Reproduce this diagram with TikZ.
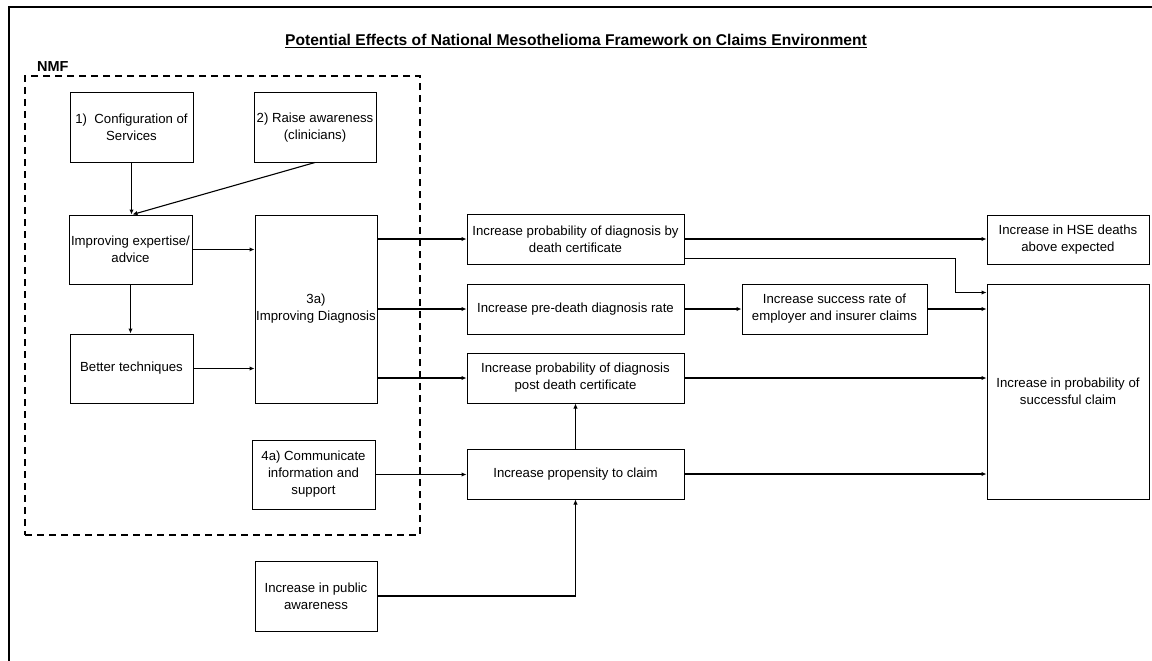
\documentclass[tikz,border=0pt]{standalone}
\usepackage{fontspec}
\setmainfont{Liberation Sans}
\usetikzlibrary{arrows.meta}

\begin{document}
\begin{tikzpicture}[x=1pt,y=-1pt]
                  \tikzstyle{every node}+=[inner sep=0pt, font=\fontsize{13.2}{17}\selectfont]
                  \tikzstyle{box}=[draw=black, line width=1pt, align=center]
                  \tikzstyle{arr}=[black, line width=1.1pt, -{Latex[length=5pt,width=4.5pt]}]
                  \useasboundingbox (0,0) rectangle (1152,661);
                  \draw [black, line width=1.5pt] (9,661) -- (9,7) -- (1152,7);
                  \draw (576,46) node [anchor=base, font=\fontsize{15.6}{18}\selectfont\bfseries] (title) {\underline{Potential Effects of National Mesothelioma Framework on Claims Environment}};
                  \draw (222.5,305.5) node [draw=black, dash pattern=on 7pt off 5pt, line width=1.5pt, minimum width=395pt, minimum height=459pt] (nmf) {};
                  \draw (37,72) node [anchor=base west, font=\fontsize{14.5}{16}\selectfont\bfseries] (nmflabel) {NMF};
                  \draw (131.5,127.5) node [box, minimum width=123pt, minimum height=69pt] (cfg) {1)\ \ Configuration of\\Services};
                  \draw (315,127.5) node [box, minimum width=122pt, minimum height=69pt] (aware) {2) Raise awareness\\(clinicians)};
                  \draw (130.5,249.5) node [box, minimum width=123pt, minimum height=69pt] (expert) {Improving expertise/\\advice};
                  \draw (316,309) node [box, minimum width=122pt, minimum height=188pt] (diag) {3a)\\Improving Diagnosis};
                  \draw (131.5,368.5) node [box, minimum width=123pt, minimum height=69pt] (better) {Better techniques};
                  \draw (313.5,474.5) node [box, minimum width=123pt, minimum height=69pt] (comm) {4a) Communicate\\information and\\support};
                  \draw (316,596) node [box, minimum width=122pt, minimum height=70pt] (public) {Increase in public\\awareness};
                  \draw (575.5,239) node [box, minimum width=217pt, minimum height=50pt] (dcert) {Increase probability of diagnosis by\\death certificate};
                  \draw (575.5,309) node [box, minimum width=217pt, minimum height=50pt] (predeath) {Increase pre-death diagnosis rate};
                  \draw (575.5,378) node [box, minimum width=217pt, minimum height=50pt] (postdeath) {Increase probability of diagnosis\\post death certificate};
                  \draw (575.5,474) node [box, minimum width=217pt, minimum height=50pt] (propensity) {Increase propensity to claim};
                  \draw (834.5,309) node [box, minimum width=185pt, minimum height=50pt] (success) {Increase success rate of\\employer and insurer claims};
                  \draw (1068,239.5) node [box, minimum width=162pt, minimum height=49pt] (hse) {Increase in HSE deaths\\above expected};
                  \draw (1068,391.5) node [box, minimum width=162pt, minimum height=215pt] (claim) {Increase in probability of\\successful claim};
                  \draw [arr] (cfg.south) -- (cfg.south |- expert.north);
                  \draw [arr] (aware.south) -- ([xshift=2pt]expert.north);
                  \draw [arr] (expert.east) -- (expert.east -| diag.west);
                  \draw [arr] (expert.south) -- (expert.south |- better.north);
                  \draw [arr] (better.east) -- (better.east -| diag.west);
                  \draw [arr] (diag.east |- dcert.west) -- (dcert.west);
                  \draw [arr] (diag.east) -- (predeath.west);
                  \draw [arr] (diag.east |- postdeath.west) -- (postdeath.west);
                  \draw [arr] (comm.east) -- (comm.east -| propensity.west);
                  \draw [arr] (public.east) -| (propensity.south);
                  \draw [arr] (propensity.north) -- (postdeath.south);
                  \draw [arr] (propensity.east) -- (propensity.east -| claim.west);
                  \draw [arr] (postdeath.east) -- (postdeath.east -| claim.west);
                  \draw [arr] (predeath.east) -- (success.west);
                  \draw [arr] (success.east) -- (success.east -| claim.west);
                  \draw [arr] (dcert.east) -- (dcert.east -| hse.west);
                  \draw [arr] ([yshift=6pt]dcert.south east) -| ([xshift=-31pt,yshift=-9pt]claim.north west) -- ([yshift=-9pt]claim.north west);
              \end{tikzpicture}
\end{document}
